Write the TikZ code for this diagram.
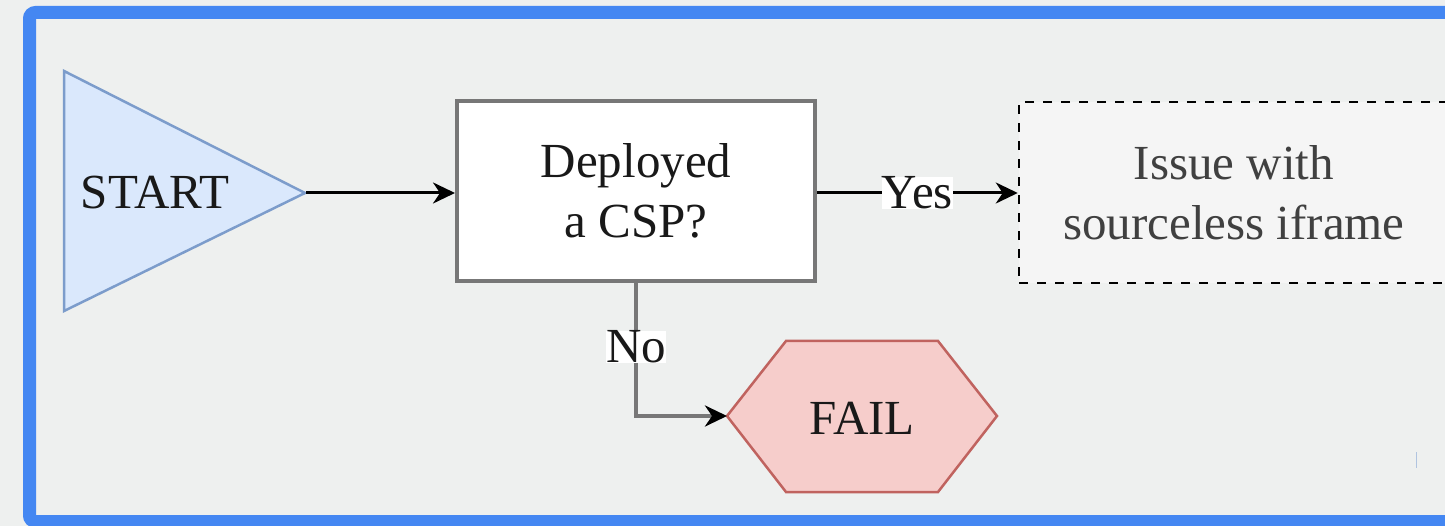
\documentclass[tikz,border=0pt]{standalone}
\usepackage{fontspec}
\setmainfont{Liberation Serif}
\usetikzlibrary{arrows.meta}
\definecolor{bgc}{HTML}{EEF0EF}
\definecolor{framec}{HTML}{4487F2}
\definecolor{startfill}{HTML}{DAE8FC}
\definecolor{startline}{HTML}{7C9CCB}
\definecolor{failfill}{HTML}{F6CDCB}
\definecolor{failline}{HTML}{C0635F}
\definecolor{boxline}{HTML}{777777}
\definecolor{dashfill}{HTML}{F5F5F5}
\tikzset{
  txt/.style={font=\fontsize{49}{60}\selectfont, align=center, text=black!90},
  flow/.style={line width=3pt, -{Stealth[length=22pt,width=21pt,inset=7pt,color=black]}},
  lbl/.style={txt, fill=white, inner sep=0pt},
}
\begin{document}
\begin{tikzpicture}[x=1pt,y=-1pt]
  \useasboundingbox (0,0) rectangle (1445,526);
  \fill[bgc] (0,0) rectangle (1445,526);
  \begin{scope}
    \clip (0,0) rectangle (1445,526);
    \draw[framec, line width=13pt, rounded corners=6pt] (29.5,12.5) rectangle (1470,521.5);
  \end{scope}

  % start triangle
  \draw[fill=startfill, draw=startline, line width=2.5pt, line join=miter]
    (64,71) -- (305,193) -- (64,311) -- cycle;
  \node[txt] (start) at (155,193) {START};
  \coordinate (starttip) at (306,193);

  % decision box
  \node[draw=boxline, fill=white, line width=4pt, minimum width=358pt, minimum height=180pt,
        txt] (csp) at (636,191) {Deployed\\a CSP?};

  % outcome box
  \node[draw=black, fill=dashfill, line width=2.5pt, dash pattern=on 9pt off 9pt,
        minimum width=430pt, minimum height=181pt, txt, text=black!75] (issue) at (1234,192.5)
        {Issue with\\sourceless iframe};

  % fail hexagon
  \draw[fill=failfill, draw=failline, line width=2.5pt]
    (727,416) -- (786,341) -- (938,341) -- (997,416) -- (938,492) -- (786,492) -- cycle;
  \node[txt] (fail) at (862,418) {FAIL};
  \coordinate (failtip) at (727,416);

  % connectors
  \draw[flow, black] (starttip) -- (csp.west |- starttip);
  \draw[flow, black] (csp.east |- starttip) -- node[lbl] (yes) {Yes} (issue.west |- starttip);
  \draw[flow, boxline, line width=4pt] (csp.south -| 636,0) |- node[lbl, pos=0.24] (no) {No} (failtip);

  % small mark near the lower right
  \draw[startline!60, line width=1pt] (1416,452) -- (1416,468);
\end{tikzpicture}
\end{document}
